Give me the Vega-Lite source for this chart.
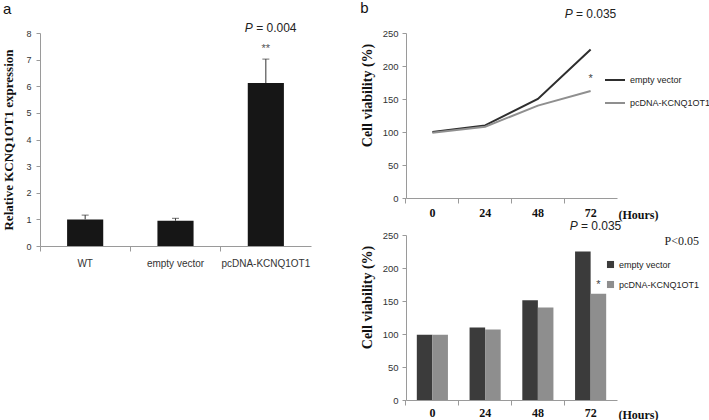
{
  "$schema": "https://vega.github.io/schema/vega-lite/v6.json",
  "padding": {"left": 2, "top": 0, "right": 0, "bottom": 5},
  "background": "white",
  "config": {
    "view": {"stroke": null},
    "axis": {"domainColor": "#9a9a9a", "tickColor": "#9a9a9a", "grid": false, "labelFont": "Liberation Sans", "labelColor": "#333333", "titleFont": "Liberation Serif", "titleFontWeight": "bold", "titleColor": "#111111", "labelOverlap": false},
    "title": {"font": "Liberation Sans", "fontSize": 15, "fontWeight": "normal", "anchor": "start", "frame": "bounds", "color": "#111111"},
    "legend": {"labelFont": "Liberation Sans", "labelFontSize": 9, "labelColor": "#222222"},
    "text": {"font": "Liberation Sans", "fontWeight": "normal", "color": "#222222"}
  },
  "datasets": {
    "expr": [
      {"group": "WT", "value": 1.0, "upper": 1.16},
      {"group": "empty vector", "value": 0.95, "upper": 1.04},
      {"group": "pcDNA-KCNQ1OT1", "value": 6.12, "upper": 7.02}
    ],
    "line": [
      {"hours": "0", "series": "empty vector", "viability": 100},
      {"hours": "24", "series": "empty vector", "viability": 110},
      {"hours": "48", "series": "empty vector", "viability": 150},
      {"hours": "72", "series": "empty vector", "viability": 225},
      {"hours": "0", "series": "pcDNA-KCNQ1OT1", "viability": 99},
      {"hours": "24", "series": "pcDNA-KCNQ1OT1", "viability": 108},
      {"hours": "48", "series": "pcDNA-KCNQ1OT1", "viability": 140},
      {"hours": "72", "series": "pcDNA-KCNQ1OT1", "viability": 162}
    ],
    "bars": [
      {"hours": "0", "series": "empty vector", "viability": 99},
      {"hours": "24", "series": "empty vector", "viability": 110},
      {"hours": "48", "series": "empty vector", "viability": 151},
      {"hours": "72", "series": "empty vector", "viability": 225},
      {"hours": "0", "series": "pcDNA-KCNQ1OT1", "viability": 99},
      {"hours": "24", "series": "pcDNA-KCNQ1OT1", "viability": 107},
      {"hours": "48", "series": "pcDNA-KCNQ1OT1", "viability": 140},
      {"hours": "72", "series": "pcDNA-KCNQ1OT1", "viability": 161}
    ],
    "one": [{}]
  },
  "bounds": "flush",
  "spacing": 95,
  "hconcat": [
    {
      "width": 271,
      "height": 213,
      "title": {"text": "a", "offset": 5},
      "layer": [
        {
          "data": {"name": "expr"},
          "mark": {"type": "bar", "color": "#161616"},
          "encoding": {
            "x": {"field": "group", "type": "nominal", "sort": null, "scale": {"paddingInner": 0.6, "paddingOuter": 0.3},
                  "axis": {"title": null, "ticks": false, "labelAngle": 0, "labelFontSize": 10, "labelPadding": 12}},
            "y": {"field": "value", "type": "quantitative", "scale": {"domain": [0, 8], "nice": false}, "title": "Relative KCNQ1OT1 expression",
                  "axis": {"values": [0, 1, 2, 3, 4, 5, 6, 7, 8], "labelOverlap": false, "labelFlush": false, "labelBound": false, "labelFontSize": 9, "tickSize": 4, "labelPadding": 5, "titleFontSize": 13, "titlePadding": 10}}
          }
        },
        {
          "data": {"name": "expr"},
          "mark": {"type": "rule", "color": "#333333", "strokeWidth": 1},
          "encoding": {
            "x": {"field": "group", "type": "nominal", "sort": null,
                  "axis": {"orient": "bottom", "title": null, "labels": false, "domain": false, "ticks": true, "tickSize": 5, "bandPosition": -0.75}},
            "y": {"field": "value", "type": "quantitative", "title": "Relative KCNQ1OT1 expression",
                  "axis": {"values": [0, 1, 2, 3, 4, 5, 6, 7, 8], "labelOverlap": false, "labelFlush": false, "labelBound": false, "labelFontSize": 9, "tickSize": 4, "labelPadding": 5, "titleFontSize": 13, "titlePadding": 10}},
            "y2": {"field": "upper"}
          }
        },
        {
          "data": {"name": "expr"},
          "mark": {"type": "tick", "color": "#333333", "thickness": 1, "size": 7},
          "encoding": {
            "x": {"field": "group", "type": "nominal", "sort": null, "axis": null},
            "y": {"field": "upper", "type": "quantitative", "title": "Relative KCNQ1OT1 expression",
                  "axis": {"values": [0, 1, 2, 3, 4, 5, 6, 7, 8], "labelOverlap": false, "labelFlush": false, "labelBound": false, "labelFontSize": 9, "tickSize": 4, "labelPadding": 5, "titleFontSize": 13, "titlePadding": 10}}
          }
        },
        {
          "data": {"name": "one"},
          "mark": {"type": "text", "text": "P", "fontSize": 12, "fontStyle": "italic", "align": "left", "dx": -21},
          "encoding": {
            "x": {"datum": "pcDNA-KCNQ1OT1", "type": "nominal", "axis": null},
            "y": {"datum": 8.2, "type": "quantitative", "title": "Relative KCNQ1OT1 expression",
                  "axis": {"values": [0, 1, 2, 3, 4, 5, 6, 7, 8], "labelOverlap": false, "labelFlush": false, "labelBound": false, "labelFontSize": 9, "tickSize": 4, "labelPadding": 5, "titleFontSize": 13, "titlePadding": 10}}
          }
        },
        {
          "data": {"name": "one"},
          "mark": {"type": "text", "text": "= 0.004", "fontSize": 12, "align": "left", "dx": -9.7},
          "encoding": {
            "x": {"datum": "pcDNA-KCNQ1OT1", "type": "nominal", "axis": null},
            "y": {"datum": 8.2, "type": "quantitative", "title": "Relative KCNQ1OT1 expression",
                  "axis": {"values": [0, 1, 2, 3, 4, 5, 6, 7, 8], "labelOverlap": false, "labelFlush": false, "labelBound": false, "labelFontSize": 9, "tickSize": 4, "labelPadding": 5, "titleFontSize": 13, "titlePadding": 10}}
          }
        },
        {
          "data": {"name": "one"},
          "mark": {"type": "text", "text": "**", "fontSize": 11, "color": "#555555"},
          "encoding": {
            "x": {"datum": "pcDNA-KCNQ1OT1", "type": "nominal", "axis": null},
            "y": {"datum": 7.4, "type": "quantitative", "title": "Relative KCNQ1OT1 expression",
                  "axis": {"values": [0, 1, 2, 3, 4, 5, 6, 7, 8], "labelOverlap": false, "labelFlush": false, "labelBound": false, "labelFontSize": 9, "tickSize": 4, "labelPadding": 5, "titleFontSize": 13, "titlePadding": 10}}
          }
        }
      ],
      "resolve": {"axis": {"x": "independent"}}
    },
    {
      "bounds": "flush",
      "spacing": 37,
      "resolve": {"scale": {"color": "independent"}, "legend": {"color": "independent"}},
      "vconcat": [
        {
          "width": 211,
          "height": 165,
          "title": {"text": "b", "offset": -8},
          "layer": [
            {
              "data": {"name": "line"},
              "mark": {"type": "line", "strokeWidth": 2},
              "encoding": {
                "x": {"field": "hours", "type": "ordinal", "sort": null, "scale": {"type": "band", "paddingInner": 0.41, "paddingOuter": 0.205},
                      "axis": {"title": "(Hours)", "titleFont": "Liberation Serif", "titleFontWeight": "bold", "titleFontSize": 12, "titleAngle": 0, "titleAlign": "left", "titleBaseline": "alphabetic", "titleX": 212, "titleY": 20,
                               "labelFont": "Liberation Serif", "labelFontWeight": "bold", "labelFontSize": 12, "labelColor": "#111111", "labelAngle": 0, "ticks": false, "labelPadding": 9}},
                "y": {"field": "viability", "type": "quantitative", "scale": {"domain": [0, 250], "nice": false}, "title": "Cell viability (%)",
                      "axis": {"values": [0, 50, 100, 150, 200, 250], "labelOverlap": false, "labelFlush": false, "labelBound": false, "labelFontSize": 9.5, "tickSize": 4, "labelPadding": 4, "titleFontSize": 14, "titlePadding": 8, "titleY": 62}},
                "color": {"field": "series", "type": "nominal", "sort": null,
                          "scale": {"domain": ["empty vector", "pcDNA-KCNQ1OT1"], "range": ["#2e2e2e", "#8f8f8f"]},
                          "legend": {"orient": "none", "legendX": 198, "legendY": 36, "title": null, "symbolType": "stroke", "symbolStrokeWidth": 2, "symbolSize": 400, "rowPadding": 7}}
              }
            },
            {
              "data": {"name": "one"},
              "mark": {"type": "text", "text": "*", "fontSize": 11, "color": "#444444"},
              "encoding": {
                "x": {"datum": "72", "type": "ordinal", "axis": {"orient": "bottom", "title": null, "labels": false, "domain": false, "ticks": true, "tickSize": 5, "bandPosition": -0.348}},
                "y": {"datum": 180, "type": "quantitative", "title": "Cell viability (%)",
                      "axis": {"values": [0, 50, 100, 150, 200, 250], "labelOverlap": false, "labelFlush": false, "labelBound": false, "labelFontSize": 9.5, "tickSize": 4, "labelPadding": 4, "titleFontSize": 14, "titlePadding": 8, "titleY": 62}}
              }
            },
            {
              "data": {"name": "one"},
              "mark": {"type": "text", "text": "P", "fontSize": 12, "fontStyle": "italic", "align": "left", "dx": -26},
              "encoding": {
                "x": {"datum": "72", "type": "ordinal", "axis": null},
                "y": {"datum": 279, "type": "quantitative", "title": "Cell viability (%)",
                      "axis": {"values": [0, 50, 100, 150, 200, 250], "labelOverlap": false, "labelFlush": false, "labelBound": false, "labelFontSize": 9.5, "tickSize": 4, "labelPadding": 4, "titleFontSize": 14, "titlePadding": 8, "titleY": 62}}
              }
            },
            {
              "data": {"name": "one"},
              "mark": {"type": "text", "text": "= 0.035", "fontSize": 12, "align": "left", "dx": -14.7},
              "encoding": {
                "x": {"datum": "72", "type": "ordinal", "axis": null},
                "y": {"datum": 279, "type": "quantitative", "title": "Cell viability (%)",
                      "axis": {"values": [0, 50, 100, 150, 200, 250], "labelOverlap": false, "labelFlush": false, "labelBound": false, "labelFontSize": 9.5, "tickSize": 4, "labelPadding": 4, "titleFontSize": 14, "titlePadding": 8, "titleY": 62}}
              }
            }
          ],
          "resolve": {"axis": {"x": "independent"}}
        },
        {
          "width": 211,
          "height": 165,
          "layer": [
            {
              "data": {"name": "bars"},
              "mark": {"type": "bar"},
              "encoding": {
                "x": {"field": "hours", "type": "ordinal", "sort": null, "scale": {"paddingInner": 0.41, "paddingOuter": 0.205},
                      "axis": {"title": "(Hours)", "titleFont": "Liberation Serif", "titleFontWeight": "bold", "titleFontSize": 12, "titleAngle": 0, "titleAlign": "left", "titleBaseline": "alphabetic", "titleX": 212, "titleY": 18,
                               "labelFont": "Liberation Serif", "labelFontWeight": "bold", "labelFontSize": 12, "labelColor": "#111111", "labelAngle": 0, "ticks": false, "labelPadding": 7}},
                "xOffset": {"field": "series", "type": "nominal", "sort": null},
                "y": {"field": "viability", "type": "quantitative", "scale": {"domain": [0, 250], "nice": false}, "title": "Cell viability (%)",
                      "axis": {"values": [0, 50, 100, 150, 200, 250], "labelOverlap": false, "labelFlush": false, "labelBound": false, "labelFontSize": 9.5, "tickSize": 4, "labelPadding": 4, "titleFontSize": 14, "titlePadding": 8, "titleY": 62}},
                "color": {"field": "series", "type": "nominal", "sort": null,
                          "scale": {"domain": ["empty vector", "pcDNA-KCNQ1OT1"], "range": ["#3b3b3b", "#8e8e8e"]},
                          "legend": {"orient": "none", "legendX": 200, "legendY": 1, "title": "P<0.05", "titleFont": "Liberation Serif", "titleFontWeight": "normal", "titleFontSize": 12, "titleColor": "#222222", "titleAnchor": "end", "titlePadding": 12, "symbolType": "square", "symbolSize": 50, "symbolStrokeWidth": 0, "rowPadding": 10}}
              }
            },
            {
              "data": {"name": "one"},
              "mark": {"type": "text", "text": "*", "fontSize": 11, "color": "#444444"},
              "encoding": {
                "x": {"datum": "72", "type": "ordinal", "axis": {"orient": "bottom", "title": null, "labels": false, "domain": false, "ticks": true, "tickSize": 5, "bandPosition": -0.348}},
                "xOffset": {"datum": "pcDNA-KCNQ1OT1", "type": "nominal"},
                "y": {"datum": 174, "type": "quantitative", "title": "Cell viability (%)",
                      "axis": {"values": [0, 50, 100, 150, 200, 250], "labelOverlap": false, "labelFlush": false, "labelBound": false, "labelFontSize": 9.5, "tickSize": 4, "labelPadding": 4, "titleFontSize": 14, "titlePadding": 8, "titleY": 62}}
              }
            },
            {
              "data": {"name": "one"},
              "mark": {"type": "text", "text": "P", "fontSize": 12, "fontStyle": "italic", "align": "left", "dx": -21},
              "encoding": {
                "x": {"datum": "72", "type": "ordinal", "axis": null},
                "y": {"datum": 264, "type": "quantitative", "title": "Cell viability (%)",
                      "axis": {"values": [0, 50, 100, 150, 200, 250], "labelOverlap": false, "labelFlush": false, "labelBound": false, "labelFontSize": 9.5, "tickSize": 4, "labelPadding": 4, "titleFontSize": 14, "titlePadding": 8, "titleY": 62}}
              }
            },
            {
              "data": {"name": "one"},
              "mark": {"type": "text", "text": "= 0.035", "fontSize": 12, "align": "left", "dx": -9.7},
              "encoding": {
                "x": {"datum": "72", "type": "ordinal", "axis": null},
                "y": {"datum": 264, "type": "quantitative", "title": "Cell viability (%)",
                      "axis": {"values": [0, 50, 100, 150, 200, 250], "labelOverlap": false, "labelFlush": false, "labelBound": false, "labelFontSize": 9.5, "tickSize": 4, "labelPadding": 4, "titleFontSize": 14, "titlePadding": 8, "titleY": 62}}
              }
            }
          ],
          "resolve": {"axis": {"x": "independent"}}
        }
      ]
    }
  ]
}
